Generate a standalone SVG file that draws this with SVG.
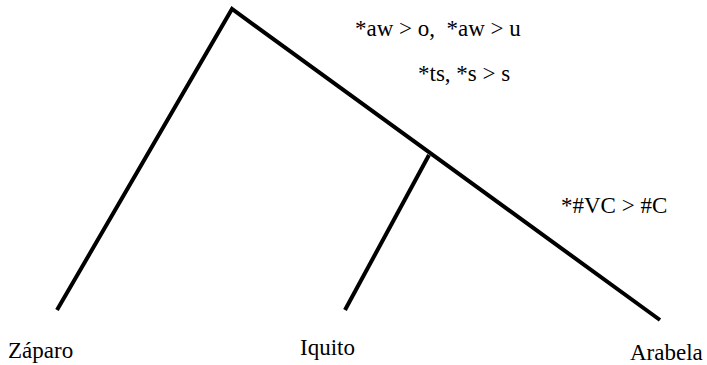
<svg xmlns="http://www.w3.org/2000/svg" width="707" height="365" viewBox="0 0 707 365">
<style>
.l{stroke:#000;stroke-width:4;fill:none;stroke-linecap:butt}
</style>
<rect width="707" height="365" fill="#fff"/>
<g id="connectors">
<polyline class="l" points="57,310 232,9 660,320"/>
<line class="l" x1="429" y1="155" x2="345" y2="310"/>
</g>
<g font-family="Liberation Serif, DejaVu Serif, serif" font-size="23" fill="#000">
<g id="labels">
<text x="355" y="36" xml:space="preserve">*aw &gt; o,  *aw &gt; u</text>
<text x="418" y="81">*ts, *s &gt; s</text>
<text x="561" y="213">*#VC &gt; #C</text>
</g>
<g id="zaparo"><text x="8" y="358">Záparo</text></g>
<g id="iquito"><text x="300" y="355">Iquito</text></g>
<g id="arabela"><text x="630" y="360">Arabela</text></g>
</g>
</svg>
